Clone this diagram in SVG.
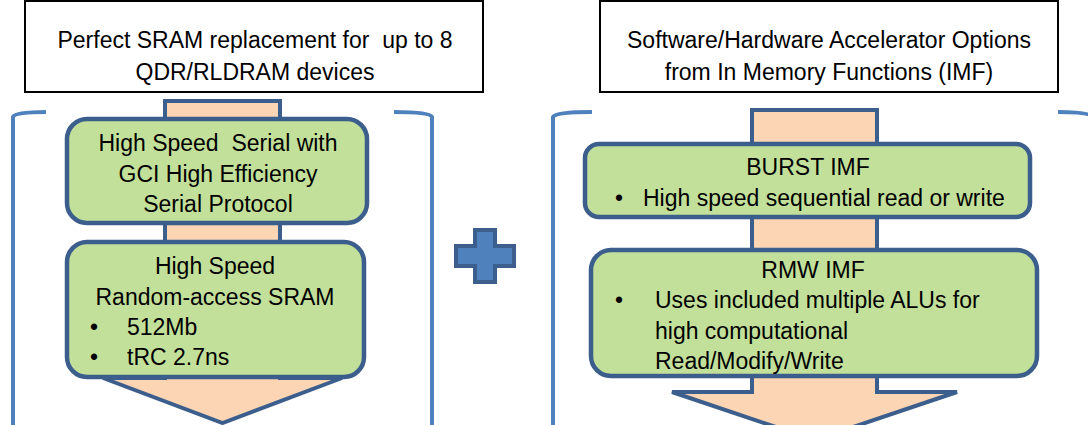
<svg xmlns="http://www.w3.org/2000/svg" width="1088" height="425" viewBox="0 0 1088 425">
<style>
.t{font-family:"Liberation Sans",Arial,sans-serif;font-size:23px;fill:#000;white-space:pre}
.c{text-anchor:middle}
.title{fill:#fff;stroke:#000;stroke-width:2}
.box{fill:#c3e09b;stroke:#3b5e8c;stroke-width:4.5}
.arrow{fill:#fcd5b4;stroke:#3b5e8c;stroke-width:4;stroke-linejoin:miter}
.br{fill:none;stroke:#4f81bd;stroke-width:4}
</style>
<rect width="1088" height="425" fill="#fff"/>
<g id="title-left">
<rect class="title" x="25" y="1" width="458" height="91"/>
<text class="t c" x="255" y="48">Perfect SRAM replacement for  up to 8</text>
<text class="t c" x="255" y="80">QDR/RLDRAM devices</text>
</g>
<g id="title-right">
<rect class="title" x="600" y="1" width="458" height="91"/>
<text class="t c" x="829" y="48">Software/Hardware Accelerator Options</text>
<text class="t c" x="829" y="80">from In Memory Functions (IMF)</text>
</g>
<g id="brackets">
<path class="br" d="M46,112 Q15,112 13,117 V425"/>
<path class="br" d="M394,112 Q430,112 432,117 V425"/>
<path class="br" d="M592,112 Q556,112 553,117 V425"/>
<path class="br" d="M1058,112 Q1090,112 1092,117 V425"/>
</g>
<g id="connectors">
<path class="arrow" d="M165,101 H280 V378 H342 L222.5,423 L103,378 H165 Z"/>
<path class="arrow" d="M752,110 H877 V392 H957 L814.5,440 L672,392 H752 Z"/>
</g>
<g id="plus">
<path d="M475,230 H495 V246 H514 V266 H495 V282 H475 V266 H456 V246 H475 Z" fill="#4f81bd" stroke="#3b5e8c" stroke-width="4"/>
</g>
<g id="box-serial">
<rect class="box" x="67" y="119" width="300" height="104" rx="20"/>
<text class="t c" x="218" y="151">High Speed  Serial with</text>
<text class="t c" x="218" y="182">GCI High Efficiency</text>
<text class="t c" x="218" y="212">Serial Protocol</text>
</g>
<g id="box-sram">
<rect class="box" x="67" y="242" width="297" height="135" rx="20"/>
<text class="t c" x="215" y="274">High Speed</text>
<text class="t c" x="215" y="305">Random-access SRAM</text>
<text class="t" x="90" y="335">•</text>
<text class="t" x="127" y="335">512Mb</text>
<text class="t" x="90" y="365">•</text>
<text class="t" x="127" y="365">tRC 2.7ns</text>
</g>
<g id="box-burst">
<rect class="box" x="585" y="144" width="445" height="73" rx="14"/>
<text class="t c" x="808" y="175">BURST IMF</text>
<text class="t" x="615" y="206">•</text>
<text class="t" x="643" y="206">High speed sequential read or write</text>
</g>
<g id="box-rmw">
<rect class="box" x="591" y="250" width="446" height="126" rx="20"/>
<text class="t c" x="813" y="278">RMW IMF</text>
<text class="t" x="615" y="308">•</text>
<text class="t" x="655" y="308">Uses included multiple ALUs for</text>
<text class="t" x="655" y="339">high computational</text>
<text class="t" x="655" y="369">Read/Modify/Write</text>
</g>
</svg>
